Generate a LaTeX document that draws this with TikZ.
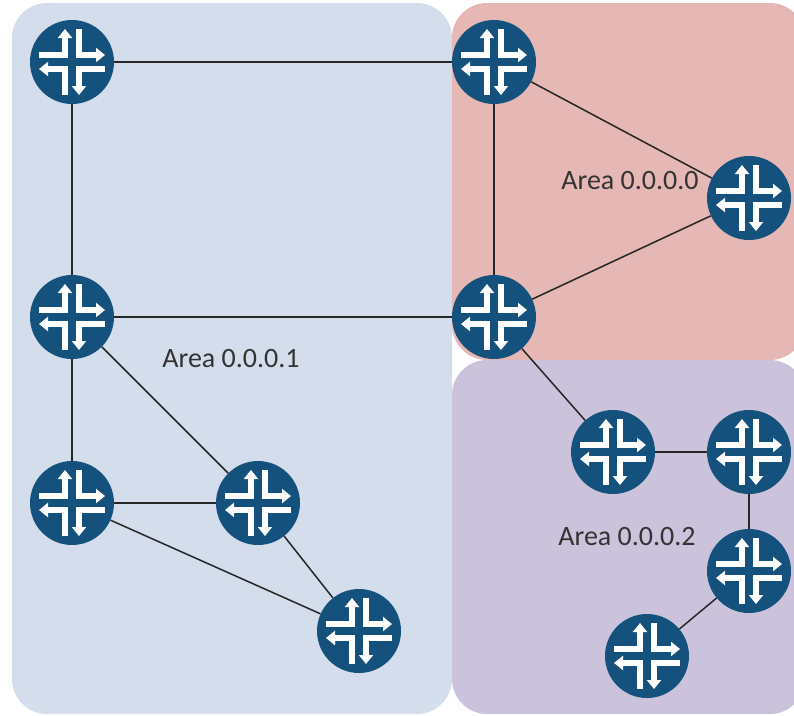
\documentclass[tikz,border=0pt]{standalone}
\usepackage{fontspec}
\setmainfont{Carlito}
\usetikzlibrary{arrows.meta}

\definecolor{areablue}{HTML}{D3DDEB}
\definecolor{areared}{HTML}{E5B8B5}
\definecolor{areapurple}{HTML}{CBC2DB}
\definecolor{routerblue}{HTML}{14517C}

\tikzset{
    area/.style={rounded corners=35pt},
    arealabel/.style={font=\fontsize{28}{32}\selectfont, text=black!80},
    link/.style={line width=1.5pt, draw=black!85},
    routerarrow/.style={white, line width=6pt, -{Triangle[length=9pt,width=14pt]}},
    router/.style={circle, fill=routerblue, minimum size=84pt, inner sep=0pt, path picture={
        \draw[routerarrow, shift={(path picture bounding box.center)}] (-33,-7)--(-7,-7)--(-7,-33);
        \draw[routerarrow, shift={(path picture bounding box.center)}] (7,-33)--(7,-7)--(33,-7);
        \draw[routerarrow, shift={(path picture bounding box.center)}] (33,7)--(7,7)--(7,33);
        \draw[routerarrow, shift={(path picture bounding box.center)}] (-7,33)--(-7,7)--(-33,7);
    }},
}

\begin{document}
\begin{tikzpicture}[x=1pt, y=-1pt]
    \path[use as bounding box, clip] (0,0) rectangle (794,715);

    \fill[area, areablue] (12,3) rectangle (452,714);
    \fill[area, areared] (452,3) rectangle (805,360);
    \fill[area, areapurple] (452,360) rectangle (805,714);

    \node[router] (topleft) at (72,62) {};
    \node[router] (topmid) at (494,62) {};
    \node[router] (redright) at (749,198) {};
    \node[router] (midleft) at (72,317) {};
    \node[router] (midcentre) at (494,317) {};
    \node[router] (lowleft) at (72,503) {};
    \node[router] (lowmid) at (258,503) {};
    \node[router] (bottomblue) at (359,631) {};
    \node[router] (purpleleft) at (613,452) {};
    \node[router] (purpleright) at (749,452) {};
    \node[router] (purplelow) at (749,571) {};
    \node[router] (purplebottom) at (647,656) {};

    \draw[link] (topleft)--(topmid);
    \draw[link] (topleft)--(midleft);
    \draw[link] (topmid)--(midcentre);
    \draw[link] (topmid)--(redright);
    \draw[link] (midcentre)--(redright);
    \draw[link] (midleft)--(midcentre);
    \draw[link] (midleft)--(lowleft);
    \draw[link] (midleft)--(lowmid);
    \draw[link] (lowleft)--(lowmid);
    \draw[link] (lowleft)--(bottomblue);
    \draw[link] (lowmid)--(bottomblue);
    \draw[link] (midcentre)--(purpleleft);
    \draw[link] (purpleleft)--(purpleright);
    \draw[link] (purpleright)--(purplelow);
    \draw[link] (purplelow)--(purplebottom);

    \node[arealabel] (area0) at (630,181) {Area 0.0.0.0};
    \node[arealabel] (area1) at (231,359) {Area 0.0.0.1};
    \node[arealabel] (area2) at (627,537) {Area 0.0.0.2};
\end{tikzpicture}
\end{document}
